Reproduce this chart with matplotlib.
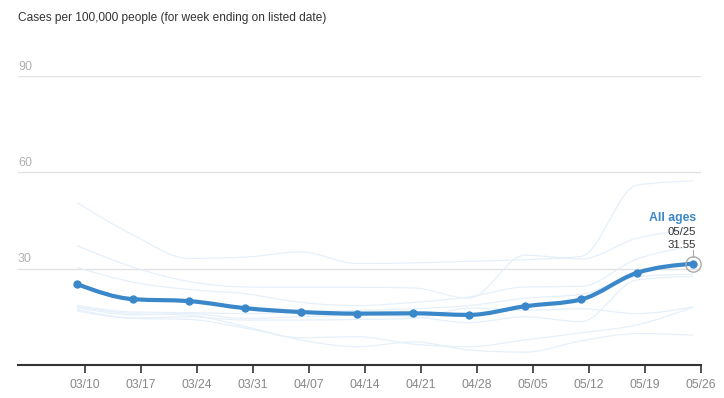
"""
Weekly case rate by age group, with the all-ages line on top.
"""

import numpy as np
import matplotlib.pyplot as plt
from matplotlib.path import Path
from matplotlib.patches import PathPatch
import matplotlib.transforms as mtransforms

plt.rcParams['font.family'] = ['Liberation Sans', 'DejaVu Sans']

# week ending dates (day offset from 03/09) and labels
days = [0, 7, 14, 21, 28, 35, 42, 49, 56, 63, 70, 77]
dates = ['03/09', '03/16', '03/23', '03/30', '04/06', '04/13',
         '04/20', '04/27', '05/04', '05/11', '05/18', '05/25']
tick_days = [1, 8, 15, 22, 29, 36, 43, 50, 57, 64, 71, 78]
tick_labels = ['03/10', '03/17', '03/24', '03/31', '04/07', '04/14',
               '04/21', '04/28', '05/05', '05/12', '05/19', '05/26']

# all ages
all_ages = [25.2, 20.5, 19.9, 17.7, 16.5, 16.0, 16.1, 15.6, 18.3, 20.4, 28.7, 31.55]

# individual age groups (faint background lines)
group1 = [50.6, 40.5, 33.2, 33.6, 35.2, 31.6, 31.8, 32.3, 32.8, 33.8, 56.0, 57.3]
group2 = [37.2, 30.5, 26.0, 24.3, 24.2, 24.2, 24.0, 20.8, 34.2, 33.0, 39.5, 42.0]
group3 = [30.4, 25.8, 23.5, 22.2, 19.5, 18.5, 19.5, 21.2, 24.3, 24.5, 33.0, 37.0]
group4 = [18.6, 16.5, 16.3, 16.0, 16.5, 17.0, 17.5, 18.5, 20.8, 22.0, 27.5, 28.3]
group5 = [18.1, 15.6, 16.0, 14.5, 15.0, 15.5, 15.0, 13.2, 15.0, 13.5, 26.5, 27.6]
group6 = [17.4, 14.7, 15.0, 14.0, 14.0, 14.2, 14.5, 17.7, 17.0, 17.5, 16.0, 18.1]
group7 = [16.8, 14.5, 14.2, 11.5, 8.5, 8.8, 6.5, 5.7, 7.8, 10.0, 12.5, 18.0]
group8 = [18.0, 16.0, 15.5, 12.0, 7.8, 5.7, 7.2, 4.7, 4.0, 7.5, 9.8, 9.3]
groups = [group1, group2, group3, group4, group5, group6, group7, group8]

yticks = [30, 60, 90]


def monotone_path(x, y):
    # monotone-x cubic bezier, like d3.curveMonotoneX
    x = np.asarray(x, float)
    y = np.asarray(y, float)
    n = len(x)
    h = np.diff(x)
    s = np.diff(y) / h
    t = np.zeros(n)
    for i in range(1, n - 1):
        p = (s[i - 1] * h[i] + s[i] * h[i - 1]) / (h[i - 1] + h[i])
        t[i] = (np.sign(s[i - 1]) + np.sign(s[i])) * min(abs(s[i - 1]), abs(s[i]), 0.5 * abs(p))
    t[0] = (3 * s[0] - t[1]) / 2
    t[-1] = (3 * s[-1] - t[-2]) / 2
    verts = [(x[0], y[0])]
    codes = [Path.MOVETO]
    for i in range(n - 1):
        dx = h[i] / 3
        verts += [(x[i] + dx, y[i] + dx * t[i]),
                  (x[i + 1] - dx, y[i + 1] - dx * t[i + 1]),
                  (x[i + 1], y[i + 1])]
        codes += [Path.CURVE4] * 3
    return Path(verts, codes)


fig = plt.figure(figsize=(7.24, 3.98), dpi=100)
ax = fig.add_axes([18 / 724, 33 / 398, 683 / 724, 289 / 398])

# background age groups
for g in groups:
    ax.add_patch(PathPatch(monotone_path(days, g), facecolor='none',
                           edgecolor='#e6f0fa', lw=0.9, zorder=2))

# all ages line
blue = '#3a87c9'
ax.add_patch(PathPatch(monotone_path(days, all_ages), facecolor='none',
                       edgecolor=blue, lw=3.0, capstyle='round', zorder=4))
ax.plot(days, all_ages, 'o', color=blue, ms=5, zorder=5)

# highlight last point
ax.plot(days[-1], all_ages[-1], 'o', ms=11, mfc='none', mec='#aaaaaa', mew=1, zorder=6)

ax.set_xlim(-7.375, 78.0)
ax.set_ylim(0, 90)

ax.set_xticks(tick_days)
ax.set_xticklabels(tick_labels)
ax.tick_params(axis='x', length=6, width=1.2, color='#333333',
               labelcolor='#888888', labelsize=8.7, pad=4)
ax.set_yticks([])

for v in yticks:
    ax.axhline(v, color='#e2e2e2', lw=1, zorder=1)
    ax.text(0, v + 2.9, str(v), transform=mtransforms.blended_transform_factory(ax.transAxes, ax.transData),
            color='#b0b0b0', fontsize=9, ha='left', va='center')

for side in ['top', 'right', 'left']:
    ax.spines[side].set_visible(False)
ax.spines['bottom'].set_color('#333333')
ax.spines['bottom'].set_linewidth(1.5)

# label for the last point
ax.text(days[-1], all_ages[-1], 'All ages', transform=mtransforms.offset_copy(ax.transData, fig=fig, x=3, y=46, units='dots'),
        color=blue, fontsize=8.8, fontweight='bold', ha='right', va='center')
ax.text(days[-1], all_ages[-1], dates[-1], transform=mtransforms.offset_copy(ax.transData, fig=fig, x=3, y=32, units='dots'),
        color='#333333', fontsize=8.2, ha='right', va='center')
ax.text(days[-1], all_ages[-1], '%.2f' % all_ages[-1], transform=mtransforms.offset_copy(ax.transData, fig=fig, x=3, y=19, units='dots'),
        color='#333333', fontsize=8.2, ha='right', va='center')
ax.plot([days[-1], days[-1]], [all_ages[-1] + 2.0, all_ages[-1] + 4.3], color='#aaaaaa', lw=0.8, zorder=6)

fig.text(18 / 724, 1 - 18 / 398, 'Cases per 100,000 people (for week ending on listed date)',
         color='#333333', fontsize=8.6, ha='left', va='center')

fig.savefig('out.png', dpi=100)
